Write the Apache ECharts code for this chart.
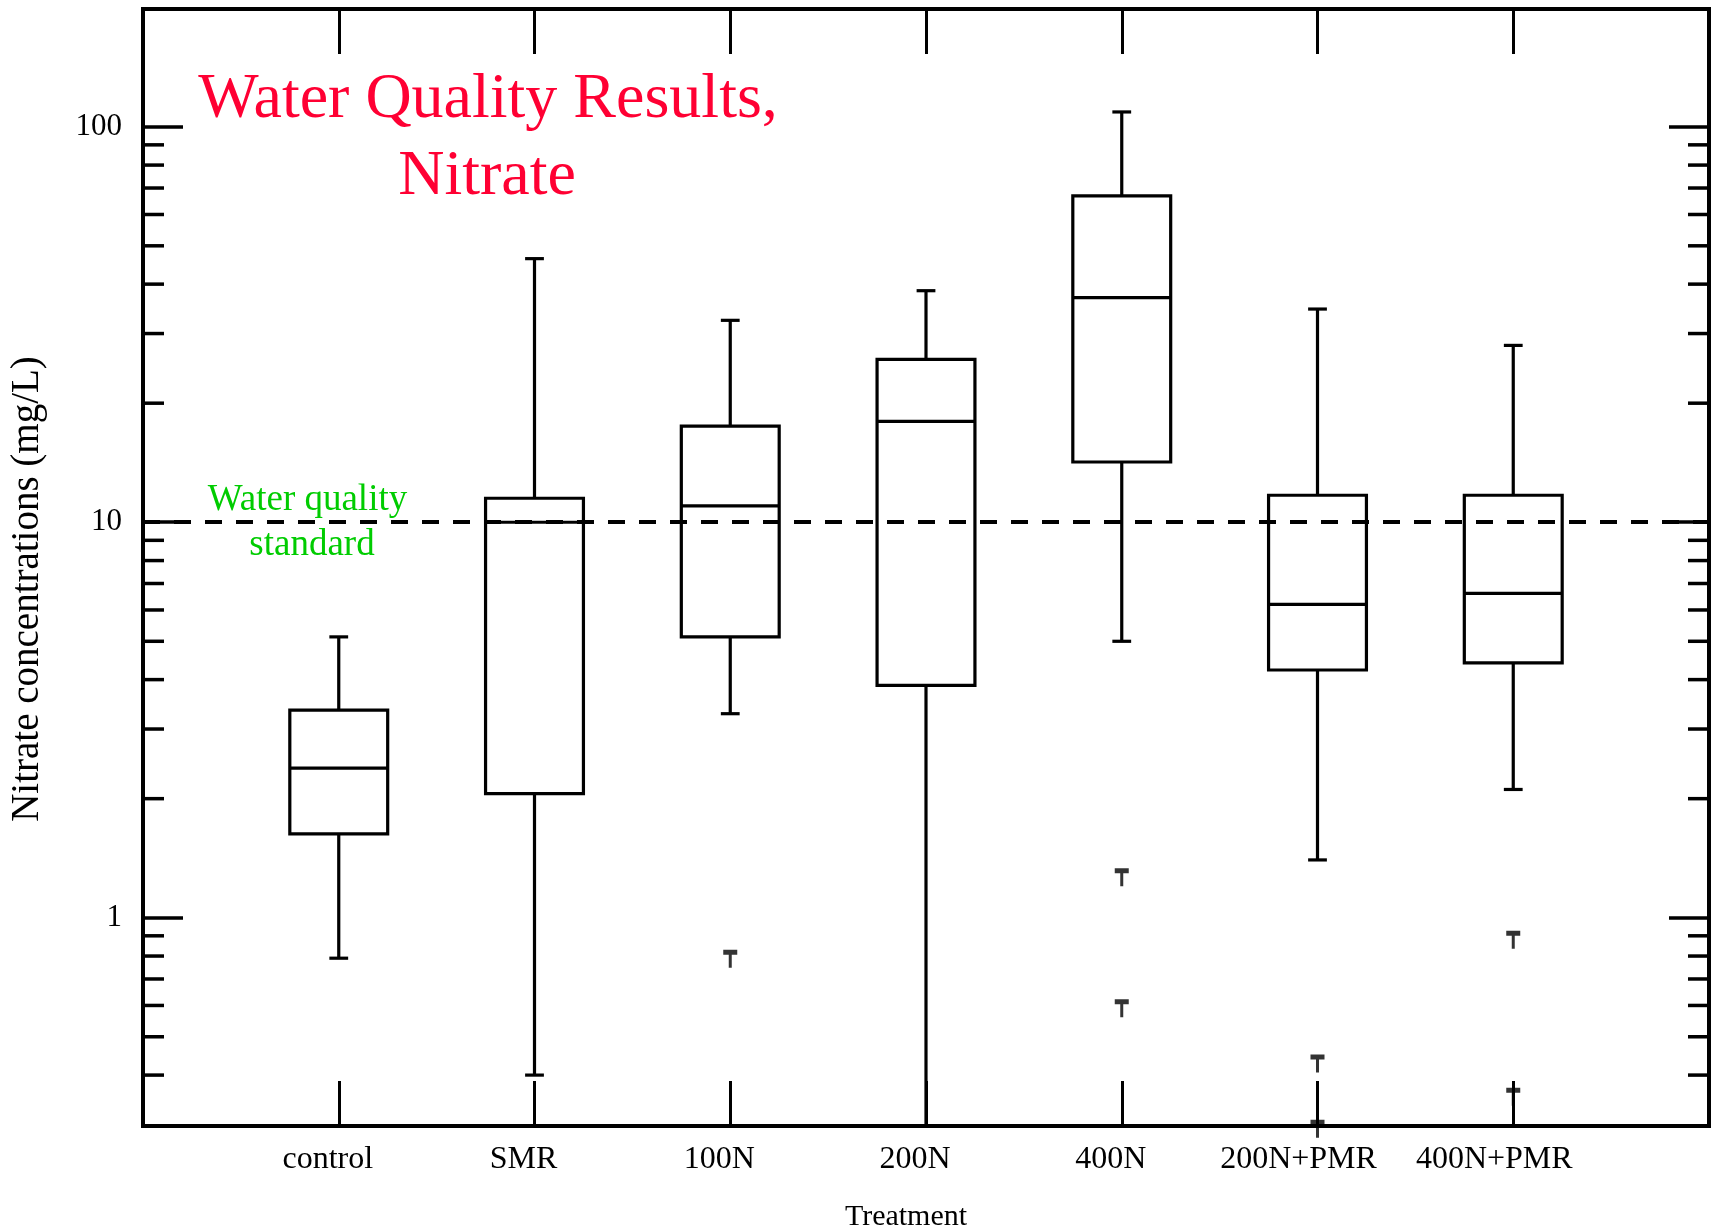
<!DOCTYPE html>
<html>
<head>
<meta charset="utf-8">
<script src="https://cdn.jsdelivr.net/npm/echarts@6/dist/echarts.min.js"></script>
<style>
html,body{margin:0;padding:0;background:#fff;}
#chart{width:1719px;height:1232px;}
</style>
</head>
<body>
<div id="chart"></div>
<script>
// ---- data ----
const categories = ['', 'control', 'SMR', '100N', '200N', '400N', '200N+PMR', '400N+PMR', ' '];
const boxCategories = ['control', 'SMR', '100N', '200N', '400N', '200N+PMR', '400N+PMR'];
const lowerWhisker = [0.79, 0.40, 3.28, 0.20, 5.0, 1.40, 2.11];
const quartile1 = [1.63, 2.06, 5.13, 3.87, 14.2, 4.23, 4.41];
const medians = [2.39, 10.0, 11.0, 18.0, 37.0, 6.20, 6.61];
const quartile3 = [3.35, 11.5, 17.5, 25.8, 66.9, 11.7, 11.7];
const upperWhisker = [5.13, 46.4, 32.4, 38.5, 109, 34.6, 28.0];
const outlierCategories = ['100N', '400N', '400N', '200N+PMR', '200N+PMR', '400N+PMR', '400N+PMR'];
const outlierValues = [0.815, 1.31, 0.611, 0.443, 0.303, 0.911, 0.365];
const yTickLabels = [1, 10, 100];
const yMinorTicks = [0.4, 0.5, 0.6, 0.7, 0.8, 0.9, 2, 3, 4, 5, 6, 7, 8, 9, 20, 30, 40, 50, 60, 70, 80, 90];
const standardLevel = 10;
const yMin = 0.2974;
const yMax = 198.5;

const titleLines = ['Water Quality Results,', 'Nitrate'];
const standardLines = ['Water quality', 'standard'];
const yAxisTitle = 'Nitrate concentrations (mg/L)';
const xAxisTitle = 'Treatment';

// ---- build ----
const FONT = '"Liberation Serif", "Times New Roman", serif';
const boxData = boxCategories.map((c, i) => [c, lowerWhisker[i], quartile1[i], medians[i], quartile3[i], upperWhisker[i]]);
const outlierData = outlierCategories.map((c, i) => [c, outlierValues[i]]);
const minorData = yMinorTicks.map(v => [0, v]);

function renderBox(params, api) {
  const x = api.value(0);
  const lo = api.coord([x, api.value(1)]);
  const p1 = api.coord([x, api.value(2)]);
  const pm = api.coord([x, api.value(3)]);
  const p3 = api.coord([x, api.value(4)]);
  const hi = api.coord([x, api.value(5)]);
  const band = api.size([1, 0])[0];
  const half = band * 0.25;
  const cap = band * 0.048;
  const cx = lo[0];
  const ls = { stroke: '#000', lineWidth: 3.2, fill: null };
  return {
    type: 'group',
    children: [
      { type: 'line', shape: { x1: cx, y1: hi[1], x2: cx, y2: p3[1] }, style: ls },
      { type: 'line', shape: { x1: cx - cap, y1: hi[1], x2: cx + cap, y2: hi[1] }, style: ls },
      { type: 'line', shape: { x1: cx, y1: p1[1], x2: cx, y2: lo[1] }, style: ls },
      { type: 'line', shape: { x1: cx - cap, y1: lo[1], x2: cx + cap, y2: lo[1] }, style: ls },
      { type: 'rect', shape: { x: cx - half, y: p3[1], width: 2 * half, height: p1[1] - p3[1] }, style: ls },
      { type: 'line', shape: { x1: cx - half, y1: pm[1], x2: cx + half, y2: pm[1] }, style: ls }
    ]
  };
}

function renderMinorTick(params, api) {
  const y = api.coord([0, api.value(1)])[1];
  const cs = params.coordSys;
  const ls = { stroke: '#000', lineWidth: 3.5 };
  return {
    type: 'group',
    children: [
      { type: 'line', shape: { x1: cs.x, y1: y, x2: cs.x + 21, y2: y }, style: ls },
      { type: 'line', shape: { x1: cs.x + cs.width, y1: y, x2: cs.x + cs.width - 21, y2: y }, style: ls }
    ]
  };
}

function yLabel(v) {
  for (const t of yTickLabels) {
    if (Math.abs(v - t) / t < 1e-6) return String(t);
  }
  return '';
}

function xLabel(v) {
  if (!v.trim()) return '';
  return v.length > 7 ? '{l|' + v + '}' : '{s|' + v + '}';
}

const xAxisBase = {
  type: 'category',
  data: categories,
  boundaryGap: false,
  axisLine: { show: false },
  axisTick: { show: true, inside: true, length: 45, interval: 0, lineStyle: { color: '#000', width: 3 } },
  splitLine: { show: false }
};
const yAxisBase = {
  type: 'log',
  logBase: 10,
  min: yMin,
  max: yMax,
  axisLine: { show: false },
  axisTick: { show: true, inside: true, length: 40, lineStyle: { color: '#000', width: 3.5 } },
  minorTick: { show: false },
  splitLine: { show: false }
};

const option = {
  backgroundColor: '#fff',
  animation: false,
  textStyle: { fontFamily: FONT },
  grid: { left: 143, right: 10, top: 9, bottom: 106, show: true, borderColor: '#000', borderWidth: 4, backgroundColor: 'transparent' },
  xAxis: [
    Object.assign({}, xAxisBase, {
      position: 'bottom',
      axisLabel: {
        show: true, interval: 0, margin: 18, color: '#000',
        fontFamily: FONT, fontSize: 32,
        formatter: xLabel,
        rich: {
          s: { fontFamily: FONT, fontSize: 32, color: '#000', padding: [0, 22, 0, 0] },
          l: { fontFamily: FONT, fontSize: 32, color: '#000', padding: [0, 38, 0, 0] }
        }
      }
    }),
    Object.assign({}, xAxisBase, { position: 'top', axisLabel: { show: false } })
  ],
  yAxis: [
    Object.assign({}, yAxisBase, {
      position: 'left',
      axisLabel: { show: true, margin: 21, color: '#000', fontFamily: FONT, fontSize: 31, showMinLabel: false, showMaxLabel: false, formatter: yLabel }
    }),
    Object.assign({}, yAxisBase, { position: 'right', axisLabel: { show: false } })
  ],
  series: [
    {
      type: 'custom',
      name: 'minor ticks',
      silent: true,
      renderItem: renderMinorTick,
      encode: { x: 0, y: 1 },
      data: minorData,
      clip: false,
      z: 3
    },
    {
      type: 'custom',
      name: 'boxes',
      renderItem: renderBox,
      encode: { x: 0, y: [1, 2, 3, 4, 5] },
      data: boxData,
      clip: true,
      z: 4
    },
    {
      type: 'scatter',
      name: 'outliers',
      data: outlierData,
      symbol: 'path://M0,0 L14,0 L14,5 L8.5,5 L8.5,18 L5.5,18 L5.5,5 L0,5 Z',
      symbolSize: [14, 18],
      symbolOffset: [0, 6],
      itemStyle: { color: '#000' },
      clip: false,
      z: 5,
      markLine: {
        silent: true,
        symbol: 'none',
        label: { show: false },
        lineStyle: { color: '#000', width: 4, type: [17, 14] },
        data: [{ yAxis: standardLevel }],
        z: 6
      }
    }
  ],
  graphic: [
    { type: 'text', x: 488, y: 100.5, z: 10, style: { text: titleLines[0], fill: '#FF0033', font: '64px ' + FONT, textAlign: 'center', textVerticalAlign: 'middle' } },
    { type: 'text', x: 487, y: 177.5, z: 10, style: { text: titleLines[1], fill: '#FF0033', font: '64px ' + FONT, textAlign: 'center', textVerticalAlign: 'middle' } },
    { type: 'text', x: 307.5, y: 500.5, z: 10, style: { text: standardLines[0], fill: '#00CC00', font: '37px ' + FONT, textAlign: 'center', textVerticalAlign: 'middle' } },
    { type: 'text', x: 312, y: 545.5, z: 10, style: { text: standardLines[1], fill: '#00CC00', font: '37px ' + FONT, textAlign: 'center', textVerticalAlign: 'middle' } },
    { type: 'text', x: 27.5, y: 589, rotation: Math.PI / 2, z: 10, style: { text: yAxisTitle, fill: '#000', font: '39px ' + FONT, textAlign: 'center', textVerticalAlign: 'middle' } },
    { type: 'text', x: 906, y: 1217, z: 10, style: { text: xAxisTitle, fill: '#000', font: '30px ' + FONT, textAlign: 'center', textVerticalAlign: 'middle' } }
  ]
};

const chart = echarts.init(document.getElementById('chart'), null, { renderer: 'canvas' });
chart.setOption(option);
</script>
</body>
</html>
